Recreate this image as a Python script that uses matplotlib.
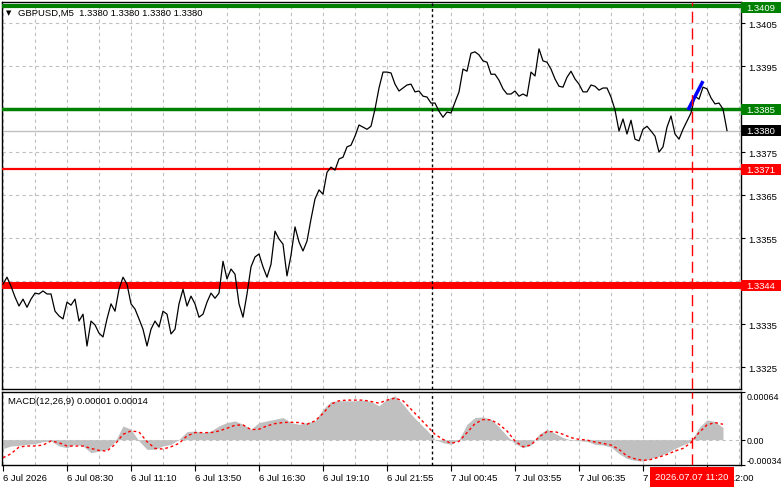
import numpy as np
import matplotlib
matplotlib.use("Agg")
import matplotlib.pyplot as plt
from matplotlib.patches import Rectangle

plt.rcParams['font.family'] = ['Liberation Sans', 'DejaVu Sans']

# GBPUSD M5 closes, one value every 2 bars
close = [
    1.33443, 1.33459, 1.33438, 1.33413, 1.33392, 1.33408, 1.33389, 1.33408, 1.33422, 1.33420,
    1.33427, 1.33420, 1.33420, 1.33380, 1.33369, 1.33362, 1.33401, 1.33394, 1.33408, 1.33357,
    1.33373, 1.33299, 1.33357, 1.33348, 1.33329, 1.33320, 1.33362, 1.33397, 1.33380, 1.33431,
    1.33459, 1.33443, 1.33397, 1.33385, 1.33362, 1.33338, 1.33299, 1.33338, 1.33357, 1.33343,
    1.33380, 1.33373, 1.33327, 1.33338, 1.33397, 1.33431, 1.33392, 1.33415, 1.33397, 1.33366,
    1.33373, 1.33401, 1.33422, 1.33410, 1.33422, 1.33496, 1.33455, 1.33478, 1.33466, 1.33397,
    1.33366, 1.33420, 1.33483, 1.33506, 1.33513, 1.33483, 1.33459, 1.33489, 1.33566, 1.33548,
    1.33536, 1.33462, 1.33510, 1.33576, 1.33541, 1.33520, 1.33543, 1.33594, 1.33641, 1.33662,
    1.33652, 1.33703, 1.33715, 1.33708, 1.33734, 1.33738, 1.33762, 1.33766, 1.33787, 1.33813,
    1.33808, 1.33803, 1.33810, 1.33850, 1.33899, 1.33936, 1.33936, 1.33934, 1.33908, 1.33892,
    1.33899, 1.33906, 1.33908, 1.33890, 1.33892, 1.33880, 1.33878, 1.33864, 1.33864, 1.33845,
    1.33831, 1.33843, 1.33841, 1.33866, 1.33890, 1.33943, 1.33938, 1.33980, 1.33983, 1.33976,
    1.33962, 1.33959, 1.33931, 1.33931, 1.33917, 1.33897, 1.33885, 1.33885, 1.33892, 1.33880,
    1.33885, 1.33880, 1.33936, 1.33927, 1.33990, 1.33962, 1.33959, 1.33943, 1.33920, 1.33903,
    1.33901, 1.33924, 1.33938, 1.33920, 1.33908, 1.33890, 1.33890, 1.33906, 1.33903, 1.33894,
    1.33899, 1.33899, 1.33878, 1.33848, 1.33799, 1.33827, 1.33792, 1.33824, 1.33780, 1.33776,
    1.33803, 1.33810, 1.33799, 1.33787, 1.33750, 1.33762, 1.33808, 1.33834, 1.33792, 1.33780,
    1.33803, 1.33822, 1.33841, 1.33880, 1.33873, 1.33901, 1.33897, 1.33876, 1.33862, 1.33864,
    1.33850, 1.33800,
]

# MACD(12,26,9), one value every 4 bars
macd_hist = [
    -0.000120, -0.000085, -0.000077, -0.000063, -0.000054, -0.000027, -0.000018, -0.000085, -0.000108, -0.000063,
    -0.000085, -0.000175, -0.000153, -0.000130, -0.000027, 0.000185, 0.000140, -0.000018, -0.000130, -0.000130,
    -0.000085, -0.000063, 0.000004, 0.000108, 0.000117, 0.000095, 0.000117, 0.000185, 0.000230, 0.000252,
    0.000207, 0.000140, 0.000230, 0.000252, 0.000275, 0.000297, 0.000230, 0.000207, 0.000230, 0.000252,
    0.000410, 0.000513, 0.000522, 0.000522, 0.000522, 0.000531, 0.000513, 0.000455, 0.000545, 0.000590,
    0.000477, 0.000342, 0.000230, 0.000126, 0.000004, -0.000041, -0.000063, 0.000004, 0.000207, 0.000297,
    0.000306, 0.000275, 0.000171, 0.000050, -0.000054, -0.000108, -0.000072, 0.000072, 0.000140, 0.000086,
    0.000027, -0.000005, -0.000014, -0.000023, -0.000063, -0.000072, -0.000099, -0.000189, -0.000252, -0.000279,
    -0.000288, -0.000252, -0.000221, -0.000175, -0.000117, -0.000072, -0.000023, 0.000162, 0.000266, 0.000243,
    0.000162,
]
macd_signal = [
    -0.000243, -0.000189, -0.000099, -0.000085, -0.000085, -0.000072, -0.000018, -0.000041, -0.000085, -0.000085,
    -0.000085, -0.000117, -0.000144, -0.000153, -0.000063, 0.000072, 0.000117, 0.000104, -0.000027, -0.000117,
    -0.000126, -0.000095, -0.000050, 0.000050, 0.000095, 0.000095, 0.000095, 0.000117, 0.000153, 0.000194,
    0.000198, 0.000135, 0.000140, 0.000185, 0.000216, 0.000230, 0.000234, 0.000230, 0.000207, 0.000252,
    0.000351, 0.000477, 0.000522, 0.000531, 0.000531, 0.000531, 0.000513, 0.000490, 0.000531, 0.000558,
    0.000522, 0.000410, 0.000297, 0.000185, 0.000072, 0.000004, -0.000050, -0.000023, 0.000095, 0.000216,
    0.000270, 0.000266, 0.000207, 0.000117, -0.000018, -0.000095, -0.000072, 0.000036, 0.000108, 0.000108,
    0.000072, 0.000027, 0.000004, -0.000005, -0.000032, -0.000050, -0.000072, -0.000130, -0.000221, -0.000257,
    -0.000279, -0.000266, -0.000234, -0.000198, -0.000153, -0.000117, -0.000041, 0.000095, 0.000198, 0.000230,
    0.000207,
]

time_labels = ['6 Jul 2026', '6 Jul 08:30', '6 Jul 11:10', '6 Jul 13:50', '6 Jul 16:30',
               '6 Jul 19:10', '6 Jul 21:55', '7 Jul 00:45', '7 Jul 03:55', '7 Jul 06:35',
               '7 Jul 09:15', '7 Jul 12:00']
price_ticks = [1.3325, 1.3335, 1.3345, 1.3355, 1.3365, 1.3375, 1.3385, 1.3395, 1.3405]
macd_ticks = [-0.00034, 0.0, 0.00064]
macd_tick_labels = ['-0.00034', '0.00', '0.00064']

levels = [1.3409, 1.3385, 1.3371, 1.3344]
level_colors = ['#008000', '#008000', '#ff0000', '#ff0000']
level_widths = [3.0, 2.5, 1.6, 5.0]
bid = 1.3380
trend_bars = [342.5, 350]
trend_prices = [1.33848, 1.33915]
day_sep_bar = 214.5
cursor_bar = 344.5
cursor_label = '2026.07.07 11:20'

FS = 6.8
GRID = dict(color='#c0c0c0', linestyle=(0, (3, 3)), linewidth=0.8)

W, H = 781, 489
fig = plt.figure(figsize=(W / 100, H / 100), dpi=100)
ax = fig.add_axes([2 / W, 1 - 390 / H, 739 / W, 387 / H])
axm = fig.add_axes([2 / W, 1 - 466 / H, 739 / W, 73 / H])

xmax = 369
bars = np.arange(len(close)) * 2
mbars = np.arange(len(macd_hist)) * 4

# ---- price panel
ax.plot(bars, close, color='black', lw=0.9, zorder=4)
ax.axhline(bid, color='#c0c0c0', lw=1, zorder=2)
for lv, c, w in zip(levels, level_colors, level_widths):
    ax.axhline(lv, color=c, lw=w, zorder=3)
ax.plot(trend_bars, trend_prices, color='#0000ff', lw=2.5, zorder=5, solid_capstyle='butt')

ax.set_xlim(-0.5, xmax)
ax.set_ylim(1.33199, 1.34099)
ax.set_xticks(np.arange(0, xmax, 16))
ax.tick_params(axis='x', length=0, labelbottom=False)
ax.yaxis.tick_right()
ax.set_yticks(price_ticks)
ax.set_yticklabels(['%.4f' % p for p in price_ticks])
ax.tick_params(axis='y', length=3, width=0.8, pad=2, labelsize=FS, colors='black')
ax.grid(True, **GRID)
ax.set_axisbelow(True)

# price tags on the right scale
tag_h = 11 / 43000
tags = [(1.34087, '1.3409', '#008000'), (1.3385, '1.3385', '#008000'),
        (bid, '1.3380', '#000000'), (1.3371, '1.3371', '#ff0000'),
        (1.3344, '1.3344', '#ff0000')]
tr = ax.get_yaxis_transform()
for y, txt, c in tags:
    ax.add_patch(Rectangle((1.0, y - tag_h / 2), 0.06, tag_h, transform=tr,
                           facecolor=c, edgecolor='none', clip_on=False, zorder=10))
    ax.text(1.0 + 5 / 739, y, txt, transform=tr, color='white', fontsize=FS,
            va='center', ha='left', zorder=11, clip_on=False)

ax.text(4 / 739, 1 - 10 / 387, '\u25bc', transform=ax.transAxes, fontsize=5,
        va='center', ha='left', family=['DejaVu Sans'])
ax.text(16 / 739, 1 - 10 / 387, 'GBPUSD,M5  1.3380 1.3380 1.3380 1.3380',
        transform=ax.transAxes, fontsize=FS, va='center', ha='left')

# ---- MACD panel
axm.fill_between(mbars, 0, macd_hist, color='#c0c0c0', linewidth=0, zorder=2)
axm.plot(mbars, macd_signal, color='#ff0000', lw=1, linestyle=(0, (2, 2)), zorder=3)
axm.axhline(0, zorder=1, **GRID)

axm.set_xlim(-0.5, xmax)
axm.set_ylim(-0.00034, 0.00064)
axm.set_xticks(np.arange(0, xmax, 32))
axm.set_xticklabels(time_labels, ha='left')
axm.set_xticks(np.arange(16, xmax, 32), minor=True)
axm.tick_params(axis='x', which='major', length=4, width=0.8, pad=2, labelsize=FS)
axm.tick_params(axis='x', which='minor', length=0)
axm.grid(True, axis='x', which='both', **GRID)
axm.set_axisbelow(True)
axm.yaxis.tick_right()
axm.set_yticks(macd_ticks)
axm.set_yticklabels(macd_tick_labels)
axm.tick_params(axis='y', length=3, width=0.8, pad=1, labelsize=6.4)
ylabs = axm.get_yticklabels()
ylabs[0].set_va('bottom')
ylabs[2].set_va('top')
axm.text(6 / 739, 1 - 8 / 73, 'MACD(12,26,9) 0.00001 0.00014', transform=axm.transAxes,
         fontsize=FS, va='center', ha='left')

# separators and cursor in both panels
for a in (ax, axm):
    a.axvline(day_sep_bar, color='black', lw=1, linestyle=(0, (2, 2)), zorder=6)
    a.axvline(cursor_bar, color='#ff0000', lw=1, linestyle=(0, (8, 4)), zorder=6)
    for s in a.spines.values():
        s.set_linewidth(1)

axm.text(cursor_bar, -12 / 73, cursor_label, transform=axm.get_xaxis_transform(),
         color='white', fontsize=FS, ha='center', va='center', zorder=12,
         bbox=dict(boxstyle='square,pad=0.55', facecolor='#ff0000', edgecolor='none'))

fig.savefig('out.png', dpi=100)
